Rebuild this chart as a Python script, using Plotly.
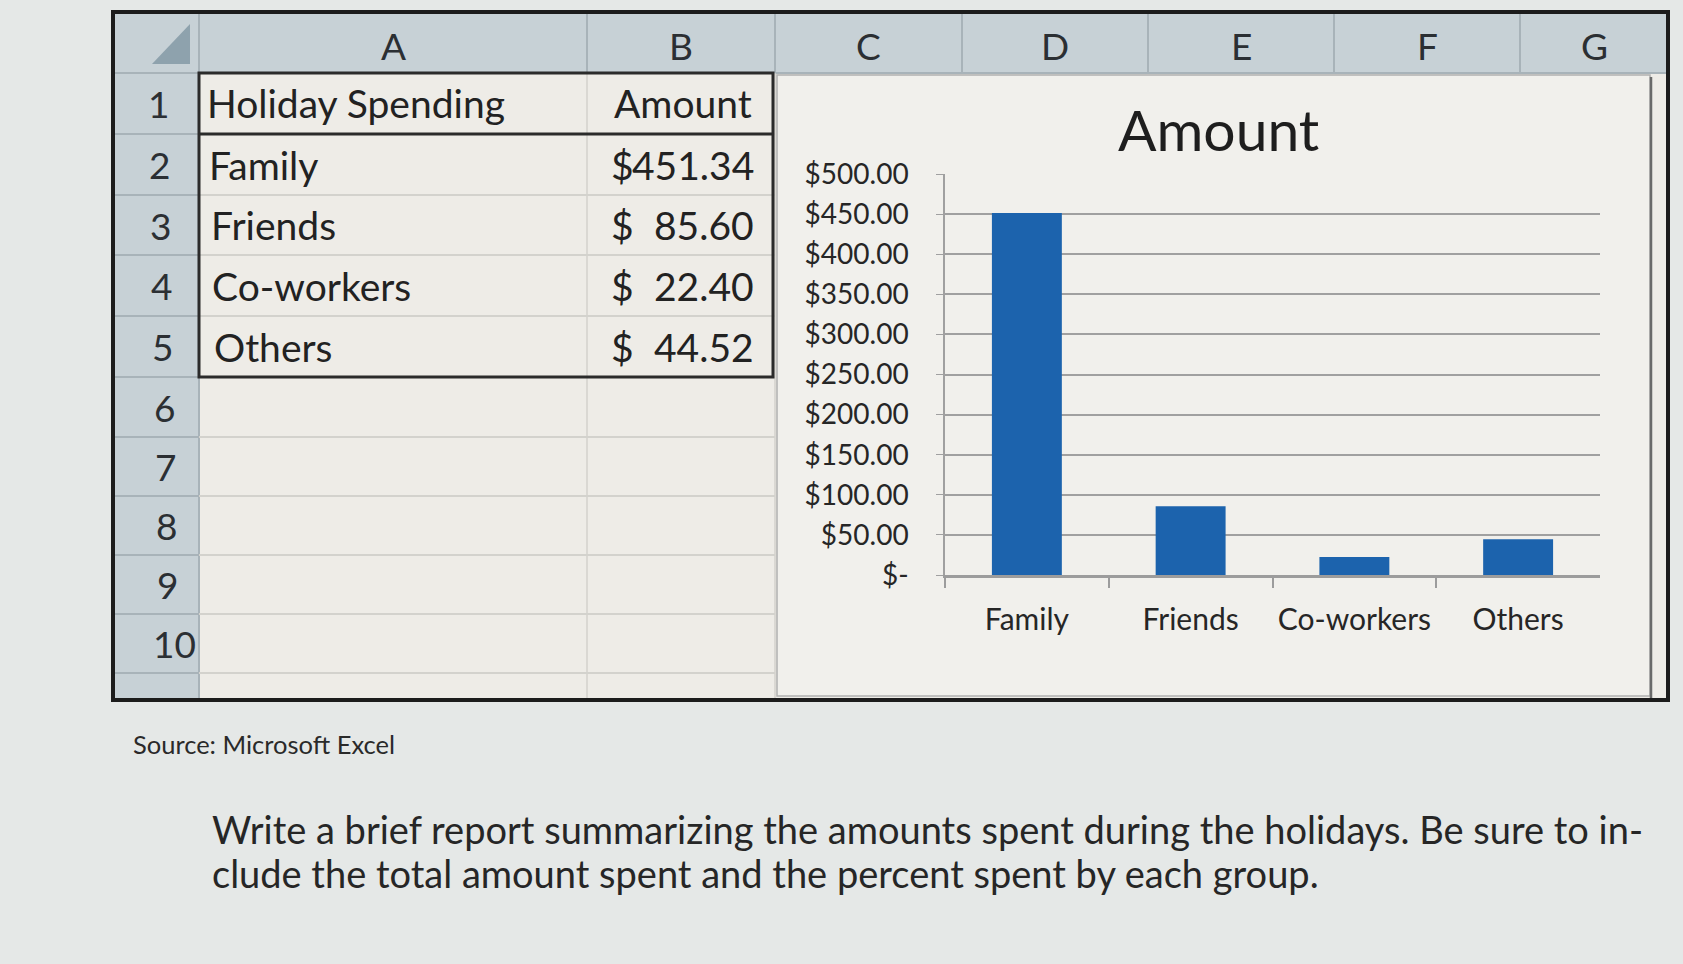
import plotly.graph_objects as go

# ---------------- data ----------------
categories = ["Family", "Friends", "Co-workers", "Others"]
amounts = [451.34, 85.60, 22.40, 44.52]
table_headers = ["Holiday Spending", "Amount"]
y_tick_values = [0, 50, 100, 150, 200, 250, 300, 350, 400, 450, 500]
y_tick_labels = ["$-", "$50.00", "$100.00", "$150.00", "$200.00", "$250.00",
                 "$300.00", "$350.00", "$400.00", "$450.00", "$500.00"]
column_letters = ["A", "B", "C", "D", "E", "F", "G"]
row_numbers = [1, 2, 3, 4, 5, 6, 7, 8, 9, 10]
chart_title = "Amount"
source_text = "Source: Microsoft Excel"
question_lines = [
    "Write a brief report summarizing the amounts spent during the holidays. Be sure to in-",
    "clude the total amount spent and the percent spent by each group.",
]

# ---------------- layout helpers (pixels -> paper) ----------------
W, H = 1683, 964
def px(x):
    return x / W
def py(y):
    return 1 - y / H

FONT = "Lato, 'Open Sans', sans-serif"
PAGE_BG = "#e5e8e7"
LEFT, TOP, RIGHT, BOTTOM = 113, 12, 1668, 700
HDR_BOTTOM = 73
RH_RIGHT = 199
col_bounds = [199, 587, 775, 962, 1148, 1334, 1520, 1668]
row_bounds = [73, 134, 195, 255, 316, 377, 437, 496, 555, 614, 673, 700]

shapes = []
def rect(x0, y0, x1, y1, fill=None, line=None, lw=0):
    shapes.append(dict(type="rect", xref="paper", yref="paper",
                       x0=px(x0), x1=px(x1), y0=py(y1), y1=py(y0),
                       fillcolor=fill if fill else "rgba(0,0,0,0)",
                       line=dict(color=line if line else "rgba(0,0,0,0)", width=lw),
                       layer="below"))
def line(x0, y0, x1, y1, color, lw):
    shapes.append(dict(type="line", xref="paper", yref="paper",
                       x0=px(x0), x1=px(x1), y0=py(y0), y1=py(y1),
                       line=dict(color=color, width=lw), layer="below"))

HEADER_FILL = "#c7d1d6"
CELL_FILL = "#eeece7"
GRID = "#d3d2cd"

rect(LEFT, TOP, RIGHT, BOTTOM, fill=CELL_FILL)
rect(LEFT, TOP, RIGHT, HDR_BOTTOM, fill=HEADER_FILL)
rect(LEFT, HDR_BOTTOM, RH_RIGHT, BOTTOM, fill=HEADER_FILL)
for cb in col_bounds:
    line(cb, TOP, cb, HDR_BOTTOM, "#a8b3b9", 2)
line(LEFT, HDR_BOTTOM, RIGHT, HDR_BOTTOM, "#a8b3b9", 2)
for rb in row_bounds[1:-1]:
    line(LEFT, rb, RH_RIGHT, rb, "#a8b3b9", 2)
line(RH_RIGHT, HDR_BOTTOM, RH_RIGHT, BOTTOM, "#a8b3b9", 2)
shapes.append(dict(type="path", xref="paper", yref="paper",
                   path=f"M {px(152)} {py(64)} L {px(190)} {py(64)} L {px(190)} {py(24)} Z",
                   fillcolor="#8ea2ad", line=dict(width=0), layer="below"))
for rb in row_bounds[1:-1]:
    line(RH_RIGHT, rb, 775, rb, GRID, 2)
line(587, HDR_BOTTOM, 587, BOTTOM, GRID, 1.5)
line(775, HDR_BOTTOM, 775, BOTTOM, GRID, 1.5)
rect(777, 75, 1650, 696, fill="#f1f0ec", line="#b0b0b0", lw=1.5)
line(1651, 77, 1651, 698, "#6a6a6a", 2.5)
rect(RH_RIGHT, HDR_BOTTOM, 773, 377, line="#2b2b2b", lw=3)
line(RH_RIGHT, 134, 773, 134, "#2b2b2b", 3)
rect(LEFT, TOP, RIGHT, BOTTOM, line="#1c1c1c", lw=4)

annotations = []
def text(x, y, s, size, anchor="center", color="#222222", family=FONT):
    annotations.append(dict(x=px(x), y=py(y), xref="paper", yref="paper",
                            text=s, showarrow=False, xanchor=anchor, yanchor="middle",
                            font=dict(family=family, size=size, color=color)))

col_centers = [(col_bounds[i] + col_bounds[i + 1]) / 2 for i in range(len(column_letters))]
for letter, cx in zip(column_letters, col_centers):
    text(cx, 45, letter, 37, color="#2b2f33")
for i, rn in enumerate(row_numbers):
    cy = (row_bounds[i] + row_bounds[i + 1]) / 2
    text(158 + (6 if rn == 10 else 0) + i * 1.2, cy, str(rn), 37, color="#2b2f33")
cy1 = (row_bounds[0] + row_bounds[1]) / 2
text(205, cy1, table_headers[0], 39, anchor="left")
text(754, cy1, table_headers[1], 39, anchor="right")
for i, (cat, amt) in enumerate(zip(categories, amounts)):
    cy = (row_bounds[i + 1] + row_bounds[i + 2]) / 2
    text(207 + i * 1.5, cy, cat, 39, anchor="left")
    text(609, cy, "$", 39, anchor="left")
    text(756, cy, f"{amt:.2f}", 39, anchor="right")

# chart title
text(1218, 129, chart_title, 57, color="#1e1e1e")

text(131, 744, source_text, 25.5, anchor="left", color="#2a2a2a")
text(210, 829, question_lines[0], 38, anchor="left", color="#262626")
text(210, 873, question_lines[1], 38, anchor="left", color="#262626")

fig = go.Figure()
fig.add_trace(go.Bar(x=categories, y=amounts, marker=dict(color="#1c63ad", line=dict(width=0)),
                     showlegend=False, hoverinfo="x+y"))

fig.update_layout(
    width=W, height=H, autosize=False,
    margin=dict(l=0, r=0, t=0, b=0, pad=0, autoexpand=False),
    paper_bgcolor=PAGE_BG,
    plot_bgcolor="rgba(0,0,0,0)",
    bargap=0.573,
    showlegend=False,
    xaxis=dict(domain=[px(945), px(1600)], anchor="y", automargin=False,
               showline=True, linecolor="#9c9c9c", linewidth=2.5,
               ticks="outside", tickson="boundaries", ticklen=10, tickwidth=1.5,
               tickcolor="#9c9c9c", ticklabelstandoff=16,
               tickfont=dict(family=FONT, size=30, color="#262626"),
               showgrid=False, fixedrange=True),
    yaxis=dict(domain=[py(575), py(174)], anchor="x", range=[0, 500], automargin=False,
               tickvals=y_tick_values, ticktext=y_tick_labels,
               showgrid=True, gridcolor="#a0a0a0", gridwidth=2,
               showline=True, linecolor="#a0a0a0", linewidth=1.5,
               ticks="outside", ticklen=7, tickcolor="#a0a0a0",
               ticklabelstandoff=22, zeroline=False,
               tickfont=dict(family=FONT, size=28, color="#262626"),
               fixedrange=True),
    shapes=shapes,
    annotations=annotations,
)

fig.write_html(
    "out.html",
    config={"displayModeBar": False},
    post_script=("document.body.style.margin='0';"
                 f"document.body.style.background='{PAGE_BG}';"
                 "document.documentElement.style.overflow='hidden';"),
)
